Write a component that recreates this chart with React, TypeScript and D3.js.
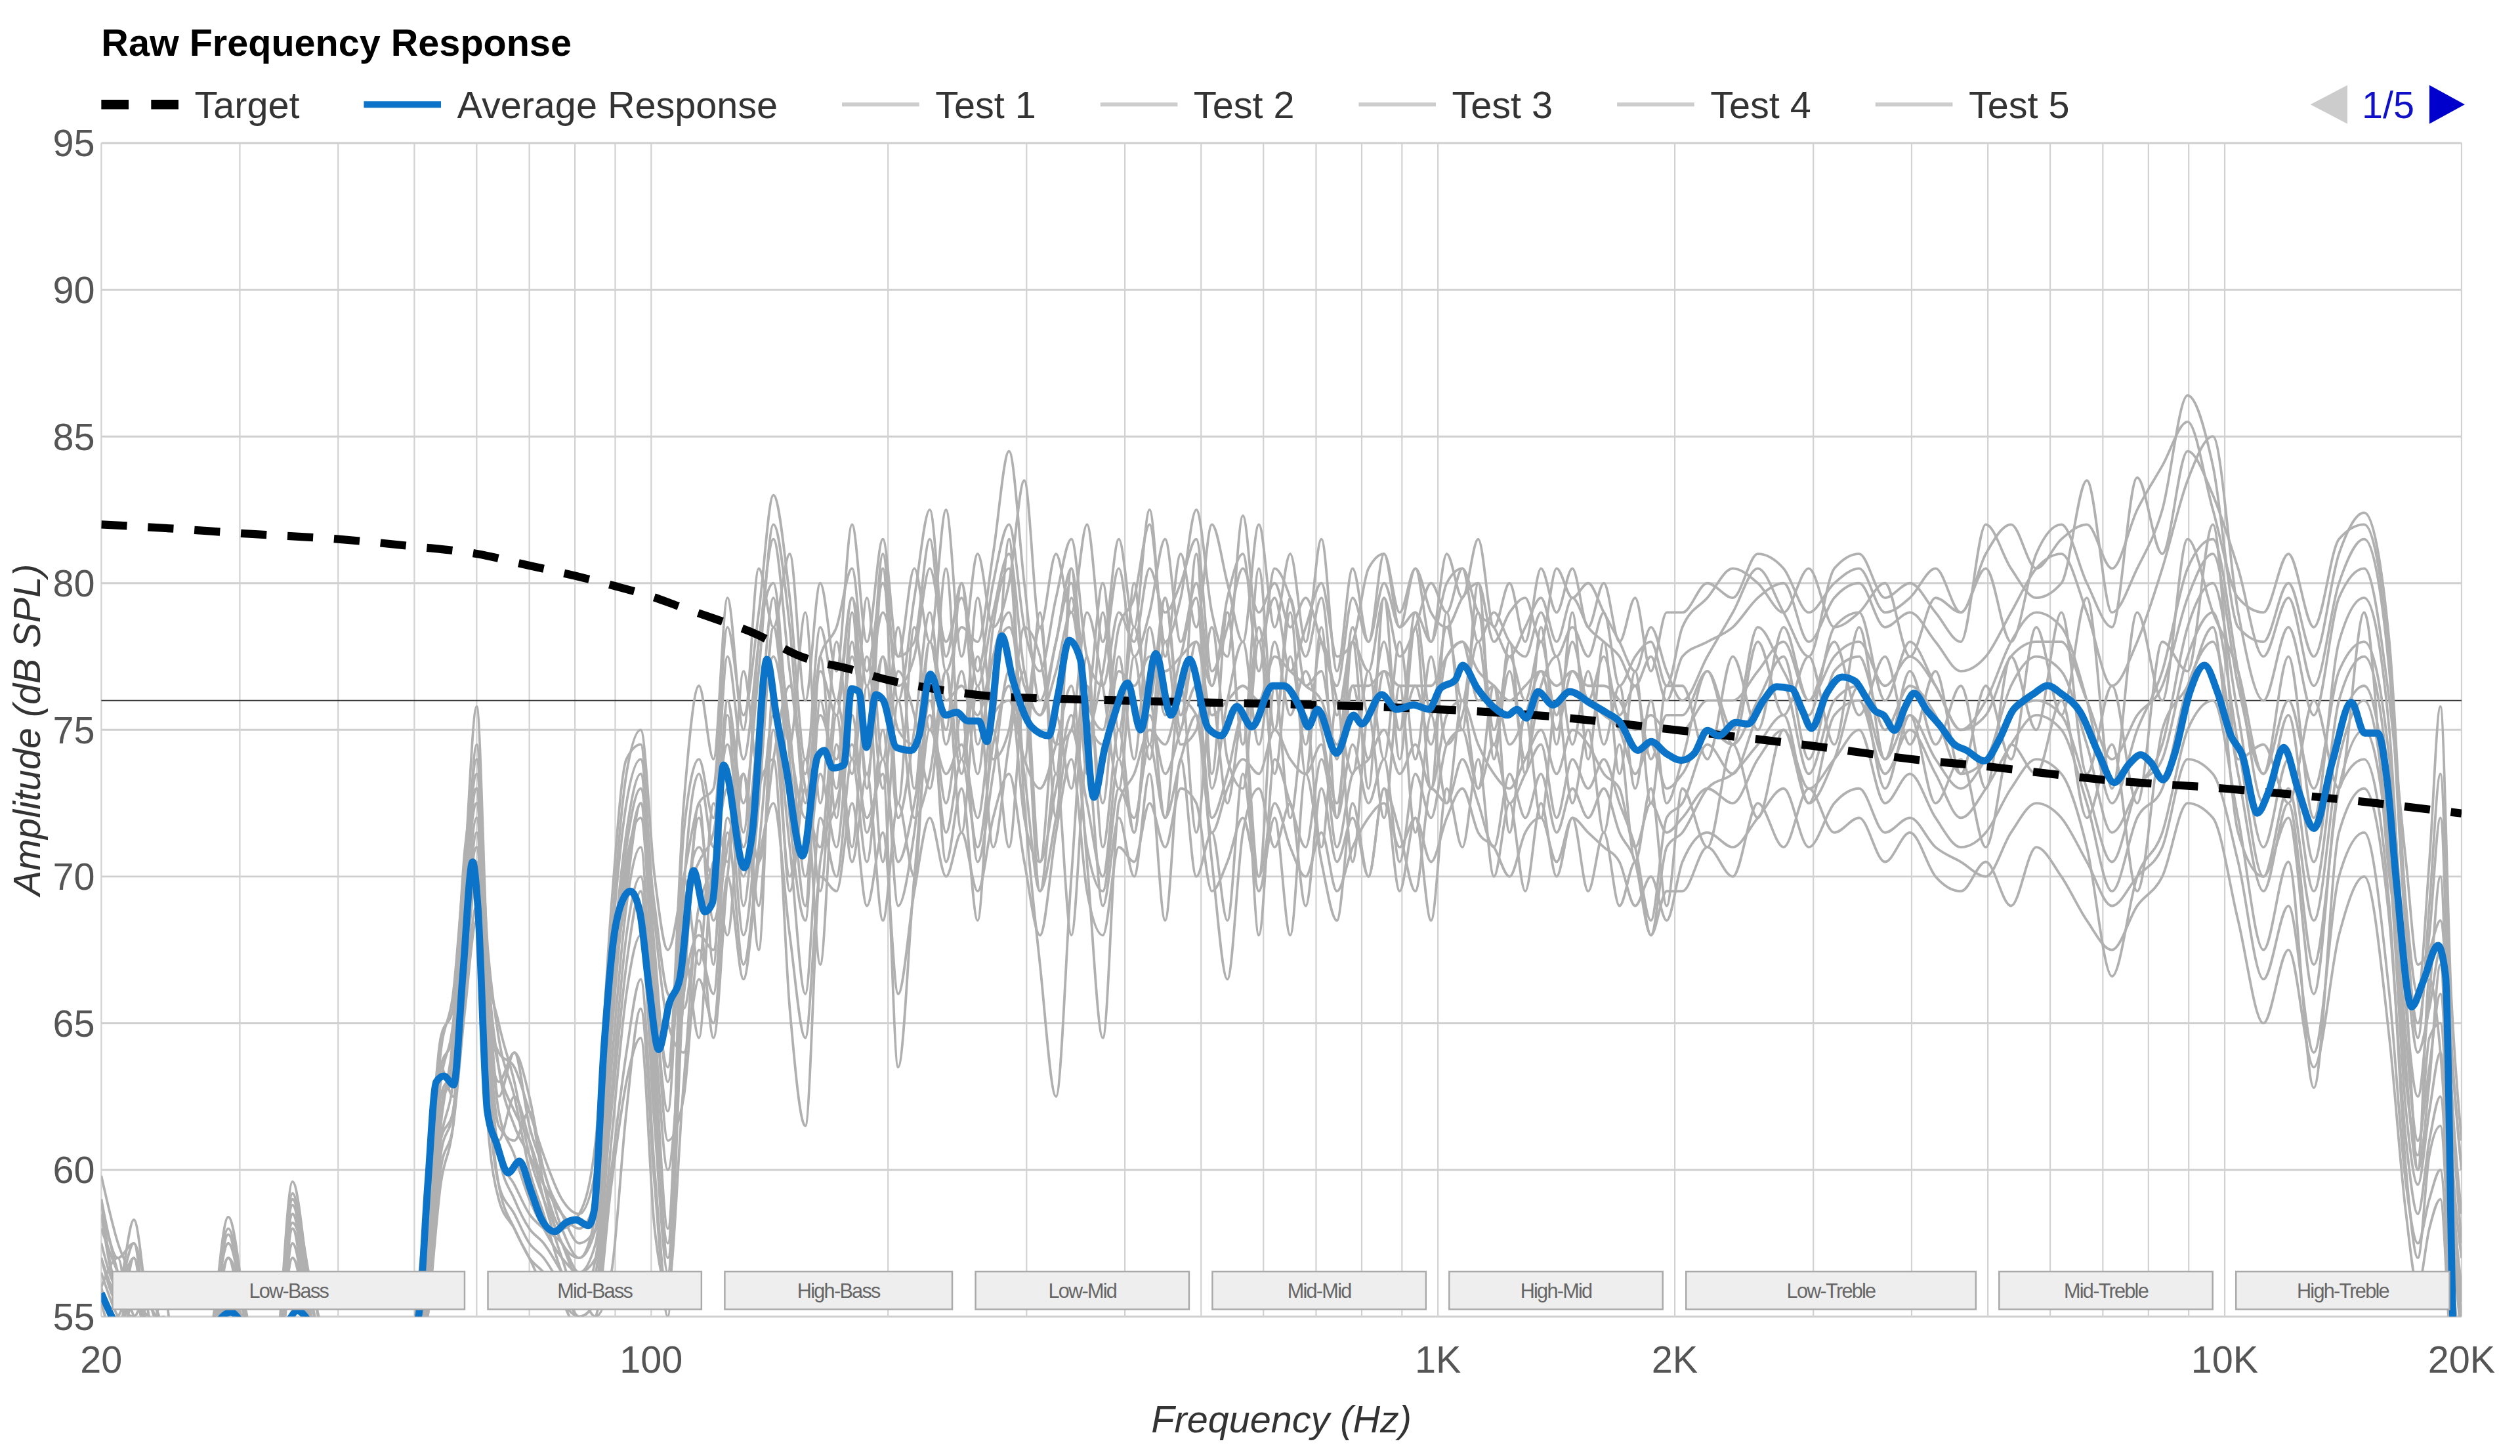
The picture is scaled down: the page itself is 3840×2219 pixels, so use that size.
import React, { useEffect, useRef } from 'react';
import * as d3 from 'd3';

// ---- data ----
const targetFreqs = [20, 25, 30, 40, 50, 60, 70, 80, 90, 100, 110, 120, 135, 155, 180, 200, 235, 270, 340, 470, 700, 1000, 1400, 2000, 3000, 4000, 5000, 6000, 7000, 10000, 15000, 20000];
const targetDb = [82.0, 81.85, 81.7, 81.5, 81.25, 81.0, 80.6, 80.25, 79.9, 79.55, 79.15, 78.8, 78.3, 77.5, 77.05, 76.7, 76.35, 76.15, 76.05, 75.95, 75.85, 75.7, 75.45, 75.0, 74.45, 74.0, 73.75, 73.5, 73.3, 73.0, 72.55, 72.15];

const avgFreqs = [
  20, 21, 22.5, 25, 27, 29.2, 31, 33, 35.5, 38, 42, 46, 50.6, 52, 53.3, 54.5, 56.1, 57.6, 59.3, 60.2,
  61.9, 63.6, 65.8, 68, 70.3, 72.6, 75.4, 77.9, 80.2, 83.2, 84.6, 87.1, 89.5, 92, 94.1, 96.7, 99.4, 102.2, 105.5, 108.7,
  113.2, 117, 119.6, 123.6, 131.3, 134.3, 140.3, 144.2, 148.2, 155.7, 162.8, 166, 170.1, 175.7, 179.7, 183.7, 187.7, 193, 197.3, 205,
  214.2, 219, 226.4, 236.5, 244.4, 252.6, 261, 267, 279, 288.2, 304.4, 320, 328.9, 339.8, 351.1, 365.2, 377.3, 387.8, 403, 419,
  437.8, 457.6, 483.4, 510.7, 530.6, 555, 580, 616, 637, 669, 684, 703, 743, 781, 800, 848, 886, 931, 974, 1006,
  1052, 1075, 1123, 1174, 1227, 1260, 1296, 1340, 1400, 1471, 1563, 1634, 1699, 1795, 1866, 1949, 2038, 2118, 2200, 2274,
  2390, 2476, 2592, 2692, 2815, 2906, 2983, 3120, 3262, 3389, 3500, 3593, 3685, 3805, 3928, 4028, 4187, 4351, 4521, 4697,
  4947, 5172, 5375, 5550, 5731, 5953, 6186, 6554, 6924, 7236, 7563, 7817, 8050, 8350, 8630, 9020, 9425, 9800, 10183, 10526,
  11000, 11374, 11884, 12417, 12980, 13714, 14488, 15056, 15649, 16080, 16536, 17284, 17862, 18670, 19088, 19504, 20000,
];
const avgDb = [
  55.8, 54.6, 53.8, 53.5, 54.2, 55.15, 54.3, 53.8, 55.2, 54.2, 53.0, 52.8, 55.0, 59.5, 63.0, 63.2, 62.9, 66.6, 70.5, 69.0,
  62.0, 60.9, 59.9, 60.3, 59.3, 58.3, 57.9, 58.2, 58.3, 58.1, 58.6, 64.2, 67.8, 69.2, 69.5, 68.8, 66.2, 64.1, 65.7, 66.5,
  70.2, 68.8, 69.1, 73.8, 70.3, 71.4, 77.4, 75.5, 73.8, 70.7, 74.1, 74.3, 73.7, 73.8, 76.4, 76.3, 74.4, 76.2, 76.0, 74.4,
  74.3, 74.8, 76.9, 75.5, 75.6, 75.3, 75.3, 74.6, 78.2, 76.7, 75.1, 74.8, 76.2, 78.05, 77.4, 72.7, 74.4, 75.5, 76.6, 75.0,
  77.6, 75.5, 77.4, 75.05, 74.8, 75.8, 75.1, 76.5, 76.5, 75.7, 75.1, 75.7, 74.2, 75.5, 75.2, 76.2, 75.7, 75.85, 75.7, 76.4,
  76.7, 77.2, 76.4, 75.8, 75.5, 75.7, 75.4, 76.3, 75.85, 76.3, 75.9, 75.6, 75.3, 74.3, 74.6, 74.2, 73.96, 74.2, 74.98, 74.8,
  75.25, 75.2, 76.0, 76.47, 76.4, 75.65, 75.05, 76.25, 76.8, 76.66, 76.1, 75.65, 75.5, 74.98, 75.8, 76.25, 75.65, 75.13, 74.53, 74.3,
  73.94, 74.68, 75.65, 75.99, 76.25, 76.51, 76.25, 75.6, 74.15, 73.2, 73.84, 74.15, 73.9, 73.3, 74.15, 76.25, 77.2, 76.25, 74.8, 74.15,
  72.16, 72.9, 74.4, 72.9, 71.64, 73.95, 75.94, 74.89, 74.89, 73.3, 69.75, 65.56, 66.4, 67.65, 66.6, 54.7, 48.0,
];

// frequencies shared by the individual test curves
const testFreqs = [
  20, 21, 22, 23, 24, 25, 27, 29, 31, 33, 35, 37, 40, 43, 46, 49, 52, 54, 56, 58, 60, 62, 64, 67, 70, 73, 77, 81, 85, 89, 93, 97, 101, 105,
  110, 115, 120, 125, 131, 137, 143, 150, 157, 164, 172, 180, 188, 197, 206, 216, 226, 237, 248, 260, 272, 285, 298, 312, 327, 342, 358, 375,
  393, 411, 430, 450, 471, 493, 516, 540, 565, 592, 620, 649, 679, 711, 744, 779, 816, 854, 894, 936, 980, 1026, 1074, 1125, 1178, 1233,
  1291, 1352, 1415, 1482, 1552, 1625, 1701, 1781, 1865, 1953,
  2045, 2200, 2370, 2550, 2750, 2960, 3190, 3430, 3700, 3980, 4290, 4620, 4970, 5350, 5760, 6200, 6680, 7190, 7740, 8330, 8970, 9660,
  10400, 11200, 12050, 12980, 13970, 15040, 16190, 17000, 17600, 18200, 18800, 19400, 20000,
];

const test1 = [
  59.8, 57.5, 56.2, 54.5, 53.8, 52.5, 53.0, 55.8, 53.5, 52.0, 57.5, 54.0, 51.5, 50.5, 51.0, 52.5, 57.0, 62.5, 63.5, 69.0, 74.5, 66.0, 62.0, 60.5, 59.0, 58.0, 57.0, 56.5, 57.5, 65.0, 70.5, 72.0, 66.0, 62.0,
  71.5, 74.0, 72.0, 77.5, 74.0, 78.0, 81.5, 77.0, 73.5, 78.5, 76.0, 79.5, 77.0, 80.0, 76.5, 77.5, 80.5, 78.0, 79.5, 77.0, 80.0, 82.0, 78.5, 77.0, 79.5, 81.5, 77.5, 76.5,
  79.0, 78.0, 80.5, 79.0, 80.0, 81.5, 77.0, 78.5, 80.5, 79.0, 80.0, 78.5, 79.5, 78.0, 76.5, 79.5, 78.0, 80.0, 78.5, 79.0, 78.0, 80.0, 80.5, 79.0, 78.5, 77.5,
  78.5, 79.5, 78.0, 79.5, 78.5, 78.0, 77.5, 76.5, 77.5, 76.0,
  77.5, 78.0, 78.5, 79.5, 80.0, 78.0, 79.5, 80.0, 78.5, 79.0, 78.0, 77.0, 77.5, 79.0, 80.5, 81.0, 79.0, 76.5, 78.0, 80.5, 83.5, 85.0,
  79.0, 76.0, 78.5, 75.5, 79.5, 80.5, 76.0, 70.5, 67.0, 67.5, 68.5, 64.0, 60.0,
];
const test2 = [
  58.5, 56.0, 58.3, 55.0, 53.5, 52.0, 52.5, 58.4, 54.0, 52.5, 59.6, 55.5, 52.0, 51.0, 50.5, 52.0, 56.0, 61.5, 64.5, 70.5, 75.8, 67.0, 63.5, 61.5, 60.5, 59.5, 58.5, 58.0, 59.0, 67.5, 72.5, 74.0, 68.5, 65.0,
  64.0, 66.5, 65.0, 70.0, 66.5, 70.5, 72.5, 68.0, 64.5, 70.0, 69.5, 72.5, 69.0, 71.5, 66.0, 69.5, 72.0, 70.0, 71.5, 69.5, 72.0, 73.5, 70.5, 68.0, 71.5, 74.0, 69.5, 68.0,
  71.0, 70.5, 72.5, 71.0, 73.0, 72.5, 69.5, 70.5, 72.0, 70.0, 72.5, 71.0, 70.0, 71.5, 69.5, 71.0, 72.0, 72.5, 71.0, 72.0, 70.5, 72.0, 73.0, 71.5, 71.0, 70.0,
  71.5, 72.0, 70.5, 72.0, 71.5, 71.0, 70.5, 69.0, 70.0, 68.5,
  70.5, 71.5, 71.0, 72.0, 73.0, 71.0, 72.5, 73.0, 71.5, 72.0, 71.0, 70.5, 70.0, 71.5, 72.5, 72.0, 70.5, 69.0, 70.0, 71.0, 74.0, 73.5,
  70.5, 66.5, 69.0, 64.0, 70.0, 71.5, 66.0, 59.5, 57.5, 59.0, 60.0, 55.0, 51.0,
];
const test3 = [
  57.0, 55.5, 55.0, 56.0, 54.0, 51.5, 52.0, 56.5, 53.0, 51.5, 58.5, 54.5, 51.0, 50.0, 50.0, 51.5, 58.5, 63.5, 62.5, 67.5, 71.5, 64.5, 61.0, 62.5, 61.0, 59.0, 57.0, 55.5, 56.0, 62.5, 68.0, 70.0, 64.0, 58.0,
  68.5, 71.0, 70.0, 75.5, 69.0, 74.5, 79.5, 72.0, 68.5, 76.0, 73.0, 78.0, 73.5, 77.5, 72.0, 75.0, 79.0, 74.5, 77.0, 73.5, 78.5, 80.5, 72.5, 67.0, 62.5, 70.0, 76.5, 72.5,
  77.5, 74.0, 78.5, 75.5, 77.5, 79.5, 73.0, 76.0, 78.0, 74.5, 78.0, 75.5, 77.0, 75.0, 72.5, 76.5, 74.0, 77.0, 75.0, 76.5, 74.5, 77.5, 78.0, 76.0, 76.5, 74.5,
  75.5, 77.0, 75.0, 77.0, 76.0, 75.5, 75.0, 73.5, 74.5, 73.0,
  73.5, 75.0, 74.5, 76.0, 77.5, 74.0, 77.0, 77.5, 75.0, 76.5, 75.5, 73.5, 74.0, 76.5, 77.5, 77.0, 74.5, 71.5, 73.0, 74.5, 78.5, 80.0,
  75.5, 71.0, 74.0, 69.5, 75.0, 76.5, 72.0, 64.5, 61.0, 63.5, 66.0, 60.0, 55.5,
];
const test4 = [
  56.0, 54.5, 57.0, 54.0, 55.9, 53.0, 53.5, 57.5, 54.5, 53.0, 59.0, 56.0, 52.5, 51.5, 51.0, 53.0, 59.5, 64.5, 65.5, 71.0, 73.0, 65.5, 64.0, 63.5, 62.0, 60.5, 59.0, 58.5, 60.0, 68.0, 73.5, 75.0, 70.0, 67.5,
  70.0, 72.5, 73.0, 78.5, 75.5, 79.0, 83.0, 79.5, 74.0, 77.5, 78.5, 80.5, 76.5, 79.0, 77.5, 78.0, 81.5, 77.0, 78.5, 78.0, 81.0, 84.5, 80.0, 76.0, 78.0, 80.5, 76.0, 75.0,
  78.5, 79.5, 82.0, 78.0, 79.5, 82.5, 79.0, 77.5, 82.3, 78.0, 79.5, 77.0, 78.5, 80.0, 77.5, 78.0, 80.5, 81.0, 79.0, 80.5, 79.0, 78.5, 79.5, 80.0, 78.0, 79.0,
  79.5, 78.0, 80.5, 79.5, 80.0, 79.0, 78.0, 77.0, 78.5, 77.0,
  76.0, 77.5, 79.0, 80.5, 79.0, 77.5, 80.5, 81.0, 79.5, 80.0, 79.0, 78.0, 82.0, 80.5, 79.5, 80.0, 83.5, 79.0, 80.5, 82.5, 86.4, 84.0,
  78.5, 78.0, 80.0, 77.5, 81.0, 82.4, 78.0, 69.0, 66.0, 70.5, 75.8, 66.0, 61.0,
];
const test5 = [
  55.5, 54.0, 56.5, 53.0, 52.5, 51.0, 51.5, 57.0, 52.5, 51.0, 58.0, 53.5, 50.5, 49.5, 49.5, 51.0, 55.5, 60.5, 62.0, 66.0, 69.0, 62.5, 59.5, 58.5, 57.5, 57.0, 56.0, 55.0, 55.5, 60.0, 64.0, 66.5, 60.0, 55.5,
  66.0, 68.0, 67.5, 72.0, 70.0, 73.0, 74.0, 65.5, 61.5, 70.5, 72.5, 74.5, 72.0, 73.5, 63.5, 70.0, 75.0, 73.5, 74.5, 72.0, 75.5, 76.0, 74.0, 73.0, 74.5, 76.5, 70.5, 64.5,
  72.5, 73.5, 75.0, 74.5, 76.0, 75.5, 71.5, 73.0, 74.0, 73.5, 75.0, 74.0, 73.5, 74.5, 71.0, 73.5, 74.0, 75.0, 73.5, 74.5, 73.0, 75.5, 76.0, 74.5, 73.5, 73.0,
  74.0, 75.0, 73.5, 75.0, 74.5, 73.5, 73.0, 71.0, 72.5, 71.5,
  72.0, 73.0, 72.5, 74.0, 75.0, 73.0, 74.0, 75.0, 72.5, 73.5, 72.0, 71.0, 71.5, 73.0, 74.0, 73.5, 71.0, 66.6, 70.0, 71.5, 75.0, 76.0,
  72.0, 67.5, 70.5, 62.8, 71.5, 73.0, 68.5, 61.0, 58.5, 61.0, 62.5, 57.0, 53.0,
];
const test6 = [
  58.0, 56.5, 55.5, 55.0, 54.5, 52.5, 53.0, 58.0, 54.0, 52.0, 59.2, 55.0, 51.5, 50.5, 50.5, 52.5, 57.5, 62.0, 64.0, 69.5, 72.5, 66.5, 62.5, 64.0, 61.5, 60.0, 58.0, 57.0, 58.0, 66.0, 71.0, 73.0, 67.5, 63.0,
  69.0, 70.5, 71.5, 74.5, 71.0, 75.0, 77.5, 74.5, 72.0, 75.5, 74.0, 77.5, 75.0, 77.5, 75.0, 74.5, 78.0, 76.0, 76.5, 75.5, 77.5, 78.5, 76.5, 75.5, 77.0, 79.0, 75.5, 74.5,
  77.0, 76.5, 77.5, 77.0, 77.5, 78.0, 75.5, 76.0, 76.5, 76.0, 77.5, 77.0, 76.5, 76.0, 74.5, 76.5, 76.5, 77.0, 76.5, 76.5, 76.5, 77.5, 78.0, 77.0, 76.5, 76.0,
  76.5, 77.0, 76.5, 77.0, 76.5, 76.5, 76.0, 75.0, 75.5, 75.0,
  75.0, 76.0, 76.0, 77.0, 78.0, 76.0, 77.5, 78.0, 76.5, 77.5, 76.5, 75.0, 75.5, 77.5, 78.0, 78.0, 76.0, 74.0, 75.5, 76.5, 79.5, 81.0,
  76.5, 73.5, 76.0, 73.0, 77.0, 78.0, 74.0, 67.0, 64.0, 65.5, 67.5, 62.0, 57.5,
];
const test7 = [
  54.5, 55.0, 56.0, 53.5, 53.0, 51.5, 52.0, 56.0, 53.0, 51.5, 57.5, 54.5, 51.0, 50.0, 50.0, 51.5, 56.5, 61.0, 63.0, 68.0, 71.0, 63.5, 60.5, 59.5, 58.5, 58.0, 57.5, 56.5, 57.0, 63.5, 69.0, 71.0, 63.0, 57.0,
  67.0, 72.0, 68.5, 71.0, 73.5, 70.5, 74.0, 76.5, 73.0, 71.0, 76.0, 73.5, 77.5, 73.0, 77.0, 75.5, 73.0, 77.0, 73.5, 77.5, 74.0, 75.0, 78.5, 77.5, 74.5, 75.0, 79.0, 76.5,
  73.0, 77.5, 74.0, 78.0, 74.5, 75.0, 78.5, 74.0, 73.0, 78.0, 73.5, 77.5, 74.5, 78.0, 76.0, 73.5, 77.0, 74.0, 78.0, 74.0, 77.5, 74.5, 75.5, 78.0, 74.5, 77.0,
  74.0, 76.5, 77.5, 74.5, 77.0, 74.5, 76.5, 73.0, 76.0, 72.5,
  74.0, 77.0, 74.5, 78.0, 75.5, 77.5, 74.5, 78.5, 74.0, 77.0, 74.5, 76.5, 73.0, 77.5, 75.0, 79.0, 73.5, 76.5, 72.5, 78.0, 77.0, 82.0,
  74.0, 74.5, 72.5, 76.0, 73.0, 79.0, 70.0, 66.0, 60.0, 66.5, 64.0, 58.5, 54.0,
];
const test8 = [
  59.0, 57.0, 57.5, 55.5, 54.5, 53.0, 53.5, 57.0, 54.5, 52.5, 58.5, 55.5, 52.0, 51.0, 51.0, 52.5, 58.0, 63.0, 65.0, 70.0, 73.5, 67.5, 64.5, 62.5, 60.0, 58.5, 56.5, 55.5, 56.5, 64.5, 70.0, 72.5, 69.0, 66.0,
  65.5, 69.0, 70.5, 73.0, 68.0, 72.5, 78.5, 75.0, 70.0, 73.5, 71.0, 75.5, 71.5, 74.0, 70.5, 72.5, 75.5, 71.5, 74.0, 71.0, 74.5, 76.5, 72.0, 70.5, 73.0, 75.5, 71.0, 69.5,
  73.0, 72.0, 74.5, 72.0, 74.0, 75.5, 70.5, 66.5, 71.5, 73.0, 71.0, 72.5, 69.0, 73.0, 70.5, 72.0, 70.0, 73.0, 71.5, 69.5, 73.0, 72.5, 74.0, 72.5, 71.0, 73.5,
  72.0, 73.5, 71.5, 73.0, 72.0, 73.0, 71.5, 70.5, 68.0, 71.0,
  71.5, 73.0, 73.5, 74.5, 75.5, 72.5, 75.5, 76.0, 73.5, 75.0, 73.5, 72.0, 73.0, 74.5, 75.5, 75.0, 72.5, 69.5, 72.0, 73.0, 76.5, 78.0,
  73.5, 69.5, 72.5, 67.0, 73.0, 75.0, 70.5, 62.0, 59.5, 62.0, 64.0, 58.0, 54.5,
];
const test9 = [
  56.5, 55.0, 54.5, 54.0, 53.5, 52.0, 52.5, 55.5, 53.5, 52.0, 57.0, 54.0, 51.5, 50.5, 50.5, 52.0, 55.0, 60.0, 61.5, 65.5, 68.5, 61.5, 59.0, 58.0, 57.0, 56.5, 55.5, 55.0, 55.5, 61.0, 66.0, 68.0, 61.5, 56.5,
  69.5, 73.5, 71.0, 76.0, 72.5, 77.0, 82.0, 78.5, 72.5, 77.0, 75.5, 79.5, 75.0, 81.0, 76.0, 79.5, 82.5, 77.5, 80.0, 76.5, 79.0, 81.0, 77.0, 75.5, 78.0, 80.0, 75.0, 77.0,
  80.5, 77.5, 79.0, 81.5, 78.0, 80.0, 76.5, 79.5, 81.0, 77.0, 80.5, 79.5, 77.5, 79.5, 75.5, 78.0, 77.0, 79.5, 77.5, 78.5, 80.0, 79.0, 80.5, 78.0, 79.0, 78.0,
  77.5, 79.0, 77.5, 78.5, 77.5, 79.0, 76.5, 77.5, 78.0, 76.5,
  78.5, 79.5, 80.5, 80.0, 79.0, 80.5, 78.5, 79.0, 80.0, 77.5, 79.5, 79.0, 80.5, 78.0, 81.0, 82.0, 80.0, 78.5, 83.6, 81.0, 84.5, 83.0,
  80.5, 77.5, 79.5, 76.5, 80.0, 81.5, 77.0, 68.0, 65.0, 68.0, 72.0, 63.0, 58.5,
];
const test10 = [
  57.5, 56.0, 57.0, 54.5, 54.0, 52.5, 53.0, 57.5, 54.0, 52.5, 58.8, 55.0, 52.0, 51.0, 51.0, 52.5, 58.0, 62.5, 63.0, 68.5, 72.0, 65.0, 61.5, 61.0, 62.0, 59.5, 57.5, 57.0, 58.5, 66.5, 71.5, 73.5, 66.5, 61.0,
  62.5, 67.5, 66.0, 71.5, 67.0, 71.0, 75.5, 71.0, 66.0, 72.0, 70.0, 74.0, 70.5, 75.0, 69.0, 71.5, 76.0, 72.5, 75.5, 70.5, 73.5, 77.0, 73.5, 69.5, 72.0, 75.0, 72.5, 70.0,
  74.0, 71.5, 75.5, 73.5, 75.0, 76.5, 72.0, 73.5, 75.5, 68.0, 74.0, 72.5, 71.0, 74.0, 72.0, 74.5, 72.5, 74.0, 70.5, 73.5, 72.0, 74.5, 75.0, 73.0, 74.5, 72.5,
  73.5, 74.5, 72.0, 74.0, 73.0, 74.0, 72.5, 71.0, 68.5, 72.0,
  72.5, 74.5, 73.5, 75.5, 76.5, 73.5, 76.0, 76.5, 74.0, 75.5, 74.0, 73.0, 74.0, 75.5, 76.0, 75.5, 73.0, 70.5, 73.0, 74.0, 77.5, 79.0,
  74.5, 70.0, 73.0, 68.5, 74.0, 76.0, 71.0, 63.0, 60.5, 64.5, 65.0, 59.5, 56.0,
];
const test11 = [
  58.8, 56.5, 55.0, 53.5, 53.0, 52.0, 52.5, 57.8, 53.5, 52.0, 58.0, 55.0, 51.5, 50.5, 50.5, 52.0, 57.0, 62.0, 63.5, 69.5, 73.0, 65.0, 63.0, 64.0, 62.5, 60.0, 58.5, 57.5, 58.0, 65.5, 69.5, 72.5, 65.0, 60.0,
  66.0, 72.5, 67.0, 76.0, 71.5, 78.0, 80.0, 74.0, 69.0, 77.5, 72.0, 79.0, 73.0, 80.5, 72.5, 78.5, 75.0, 80.5, 74.0, 79.5, 75.5, 81.5, 74.0, 79.0, 72.0, 80.5, 73.5, 79.0,
  74.0, 80.0, 74.5, 79.5, 75.0, 81.0, 73.5, 79.0, 74.5, 80.5, 75.0, 79.0, 73.5, 78.5, 72.0, 78.0, 73.0, 79.5, 74.0, 78.5, 73.0, 79.0, 75.0, 80.0, 74.0, 78.0,
  73.5, 78.5, 74.5, 79.0, 74.0, 78.0, 73.5, 77.0, 72.5, 76.5,
  76.5, 74.0, 77.5, 75.0, 78.5, 76.0, 78.0, 75.5, 77.5, 74.5, 77.0, 73.5, 76.5, 74.0, 78.5, 75.5, 79.5, 73.0, 79.0, 76.0, 81.5, 79.0,
  77.0, 73.5, 77.5, 72.0, 78.0, 79.5, 75.0, 65.5, 62.5, 66.0, 70.0, 61.0, 57.0,
];
const test12 = [
  55.0, 54.0, 55.5, 54.5, 55.0, 52.5, 53.0, 56.0, 54.0, 52.5, 57.0, 54.5, 51.5, 51.0, 51.0, 52.0, 56.0, 61.0, 62.0, 66.5, 70.0, 64.0, 60.5, 59.0, 58.0, 57.5, 56.5, 55.5, 57.0, 62.0, 67.0, 69.5, 62.0, 57.5,
  67.5, 64.5, 70.5, 68.0, 73.5, 69.0, 75.0, 70.0, 74.0, 69.5, 75.5, 71.0, 76.5, 70.5, 76.0, 72.0, 73.5, 77.0, 71.5, 76.5, 71.0, 74.5, 77.0, 70.5, 75.5, 73.0, 77.5, 71.0,
  75.0, 71.5, 76.0, 72.0, 76.5, 71.5, 76.0, 72.5, 75.5, 70.0, 76.5, 72.0, 75.5, 71.0, 76.0, 70.5, 75.5, 72.0, 76.5, 71.5, 75.5, 72.5, 76.0, 73.0, 76.5, 71.5,
  75.5, 72.0, 76.0, 72.5, 75.0, 71.5, 74.5, 70.5, 73.0, 69.0,
  73.0, 71.0, 74.5, 72.0, 75.0, 72.5, 74.0, 76.5, 73.0, 75.5, 72.5, 74.0, 71.0, 74.5, 73.5, 76.0, 72.0, 74.5, 69.5, 75.0, 76.5, 78.5,
  71.5, 70.0, 72.0, 66.0, 73.0, 74.0, 69.0, 60.0, 57.0, 60.5, 61.5, 56.0, 52.0,
];
const test13 = [
  57.0, 55.5, 56.5, 55.5, 54.0, 53.0, 53.5, 56.5, 54.5, 53.0, 58.2, 56.0, 52.5, 51.5, 51.5, 53.0, 58.5, 64.0, 66.0, 70.5, 72.5, 66.0, 63.5, 62.0, 61.0, 59.5, 58.0, 58.5, 61.0, 69.0, 74.0, 74.5, 67.0, 63.5,
  72.5, 76.5, 74.0, 79.5, 75.0, 80.5, 78.5, 81.0, 76.0, 80.0, 77.0, 82.0, 78.0, 81.5, 77.5, 80.5, 78.0, 82.5, 77.5, 81.0, 78.5, 80.0, 83.5, 78.5, 81.0, 79.0, 82.0, 78.0,
  81.5, 78.5, 82.5, 77.5, 81.0, 78.5, 82.0, 80.0, 78.0, 82.0, 78.5, 81.0, 78.0, 81.5, 77.0, 80.5, 78.0, 81.0, 78.5, 80.5, 78.0, 81.0, 79.5, 81.5, 78.5, 80.0,
  78.0, 80.5, 79.0, 80.5, 78.5, 80.0, 78.0, 79.5, 77.0, 79.0,
  79.0, 80.0, 79.5, 81.0, 80.5, 79.0, 80.0, 80.5, 79.0, 79.5, 80.5, 79.0, 81.0, 82.0, 80.5, 81.5, 82.0, 80.5, 82.5, 84.0, 85.5, 82.5,
  79.5, 79.0, 81.0, 78.5, 81.5, 82.0, 77.5, 68.5, 64.5, 69.0, 73.5, 64.5, 60.0,
];
const test14 = [
  56.0, 57.0, 54.0, 55.5, 54.5, 51.5, 52.5, 55.0, 53.0, 51.5, 56.5, 53.5, 50.5, 49.5, 50.0, 51.0, 55.0, 59.5, 61.5, 66.5, 70.5, 63.0, 59.5, 58.0, 57.0, 56.0, 55.5, 54.5, 55.0, 59.5, 63.0, 64.5, 58.0, 56.0,
  63.0, 68.5, 64.5, 70.0, 73.5, 67.5, 76.5, 69.5, 73.0, 67.0, 74.5, 70.5, 73.5, 68.5, 72.5, 70.0, 76.5, 70.5, 73.0, 68.5, 75.0, 71.0, 76.0, 69.5, 73.5, 68.0, 74.0, 69.0,
  72.0, 70.0, 73.5, 68.5, 74.0, 70.0, 71.5, 68.5, 73.5, 69.5, 72.0, 68.0, 73.5, 70.5, 68.5, 72.5, 70.0, 73.0, 69.5, 72.0, 68.5, 73.0, 71.0, 74.0, 70.0, 72.5,
  69.5, 72.5, 70.0, 72.0, 69.5, 71.5, 69.0, 70.5, 68.0, 69.5,
  69.5, 71.0, 70.0, 72.5, 71.0, 73.0, 71.5, 72.0, 70.5, 71.5, 70.0, 69.5, 70.5, 69.0, 71.0, 70.0, 68.5, 67.5, 69.0, 70.0, 72.5, 72.0,
  68.5, 65.0, 67.5, 63.5, 68.0, 70.0, 64.5, 58.5, 56.0, 58.0, 59.0, 53.5, 50.5,
];
const test15 = [
  59.0, 56.0, 57.5, 54.0, 53.5, 52.5, 53.0, 57.0, 54.0, 52.5, 59.0, 55.5, 52.0, 51.0, 51.0, 52.5, 57.5, 63.5, 64.5, 70.0, 74.0, 67.0, 65.0, 63.0, 60.5, 59.0, 57.5, 56.0, 55.0, 56.5, 62.0, 65.5, 59.5, 55.0,
  70.0, 67.0, 72.5, 70.5, 77.0, 73.5, 78.5, 74.5, 79.0, 72.5, 78.0, 74.0, 79.5, 74.0, 78.5, 73.0, 78.0, 75.0, 80.0, 74.5, 77.5, 79.0, 75.5, 78.5, 73.5, 79.5, 76.0, 80.0,
  75.0, 78.5, 76.0, 79.5, 75.5, 78.0, 76.5, 79.0, 74.5, 78.5, 75.0, 79.5, 76.5, 77.0, 74.0, 78.5, 75.5, 78.0, 75.0, 79.0, 75.5, 78.5, 76.0, 79.0, 75.0, 77.5,
  76.0, 78.0, 75.5, 78.0, 76.0, 77.5, 75.5, 76.5, 74.0, 75.5,
  75.5, 77.0, 75.0, 78.5, 77.0, 75.5, 78.5, 79.0, 76.0, 78.0, 76.5, 75.0, 76.0, 78.0, 79.0, 78.5, 76.0, 72.5, 75.0, 77.0, 80.5, 81.5,
  77.0, 72.5, 75.5, 70.5, 76.0, 77.5, 73.0, 63.5, 60.0, 63.0, 67.0, 59.0, 55.0,
];
const tests = [test1, test2, test3, test4, test5, test6, test7, test8, test9, test10, test11, test12, test13, test14, test15];

const gridHz = [20, 30, 40, 50, 60, 70, 80, 90, 100, 200, 300, 400, 500, 600, 700, 800, 900, 1000, 2000, 3000, 4000, 5000, 6000, 7000, 8000, 9000, 10000, 20000];
const xTickHz = [20, 100, 1000, 2000, 10000, 20000];
const xTickLabels = ['20', '100', '1K', '2K', '10K', '20K'];
const yTicks = [55, 60, 65, 70, 75, 80, 85, 90, 95];
const refLevel = 76;

const bandNames = ['Low-Bass', 'Mid-Bass', 'High-Bass', 'Low-Mid', 'Mid-Mid', 'High-Mid', 'Low-Treble', 'Mid-Treble', 'High-Treble'];
const bandEdges = [20, 60, 120, 250, 500, 1000, 2000, 5000, 10000, 20000];

const legendNames = ['Target', 'Average Response', 'Test 1', 'Test 2', 'Test 3', 'Test 4', 'Test 5'];

const FONT = "'Liberation Sans', Arial, Helvetica, sans-serif";
const BLUE = '#0b74c8';
const GREY = '#b0b0b0';

const App: React.FC = () => {
  const svgRef = useRef<SVGSVGElement>(null);

  useEffect(() => {
    if (!svgRef.current) return;
    const svg = d3.select(svgRef.current);
    svg.selectAll('*').remove();

    const left = 63, right = 1531, top = 89, bottom = 819;
    const x = d3.scaleLog().domain([20, 20000]).range([left, right]);
    const y = d3.scaleLinear().domain([55, 95]).range([bottom, top]);

    svg.append('rect').attr('width', '100%').attr('height', '100%').attr('fill', '#fff');

    svg.append('defs').append('clipPath').attr('id', 'plot-clip')
      .append('rect').attr('x', left).attr('y', top).attr('width', right - left).attr('height', bottom - top);

    // grid
    const grid = svg.append('g');
    grid.selectAll('.hg').data(yTicks).enter().append('line')
      .attr('x1', left).attr('x2', right)
      .attr('y1', d => y(d)).attr('y2', d => y(d))
      .attr('stroke', '#cfcfcf').attr('stroke-width', 1.2);
    grid.selectAll('.vg').data(gridHz).enter().append('line')
      .attr('x1', d => x(d)).attr('x2', d => x(d))
      .attr('y1', top).attr('y2', bottom)
      .attr('stroke', '#d2d2d2').attr('stroke-width', 0.9);

    // reference level
    svg.append('line')
      .attr('x1', left).attr('x2', right)
      .attr('y1', y(refLevel)).attr('y2', y(refLevel))
      .attr('stroke', '#333').attr('stroke-width', 0.7);

    const plot = svg.append('g').attr('clip-path', 'url(#plot-clip)');
    const line = d3.line<[number, number]>()
      .x(d => x(d[0])).y(d => y(d[1]))
      .curve(d3.curveMonotoneX);

    // individual tests
    tests.forEach(vals => {
      const pts: [number, number][] = testFreqs.slice(0, vals.length).map((f, i) => [f, vals[i]]);
      plot.append('path').attr('d', line(pts) || '')
        .attr('fill', 'none').attr('stroke', GREY).attr('stroke-width', 1.55);
    });

    // target
    const tgt: [number, number][] = targetFreqs.map((f, i) => [f, targetDb[i]]);
    plot.append('path').attr('d', line(tgt) || '')
      .attr('fill', 'none').attr('stroke', '#000').attr('stroke-width', 5)
      .attr('stroke-dasharray', '16 13');

    // average
    const avg: [number, number][] = avgFreqs.map((f, i) => [f, avgDb[i]]);
    plot.append('path').attr('d', line(avg) || '')
      .attr('fill', 'none').attr('stroke', BLUE).attr('stroke-width', 4.4)
      .attr('stroke-linejoin', 'round');

    // band boxes
    const bands = svg.append('g');
    bandNames.forEach((name, i) => {
      const x0 = x(bandEdges[i]) + 7;
      const x1 = x(bandEdges[i + 1]) - 7.5;
      bands.append('rect')
        .attr('x', x0).attr('y', 791).attr('width', x1 - x0).attr('height', 23.5)
        .attr('fill', '#eeeeee').attr('stroke', '#a9a9a9').attr('stroke-width', 1);
      bands.append('text')
        .attr('x', (x0 + x1) / 2).attr('y', 807.5)
        .attr('text-anchor', 'middle')
        .attr('font-family', FONT).attr('font-size', 12.5)
        .attr('letter-spacing', -0.7).attr('fill', '#666')
        .text(name);
    });

    // axes labels
    svg.append('g').selectAll('text').data(yTicks).enter().append('text')
      .attr('x', 59).attr('y', d => y(d) + 8.3)
      .attr('text-anchor', 'end')
      .attr('font-family', FONT).attr('font-size', 23.5).attr('fill', '#555')
      .text(d => String(d));
    svg.append('g').selectAll('text').data(xTickHz).enter().append('text')
      .attr('x', d => x(d)).attr('y', 854)
      .attr('text-anchor', 'middle')
      .attr('font-family', FONT).attr('font-size', 23.5).attr('fill', '#555')
      .text((_, i) => xTickLabels[i]);

    svg.append('text')
      .attr('x', (left + right) / 2).attr('y', 891)
      .attr('text-anchor', 'middle').attr('font-style', 'italic')
      .attr('font-family', FONT).attr('font-size', 23.5).attr('fill', '#333')
      .text('Frequency (Hz)');
    svg.append('text')
      .attr('transform', `translate(25, ${(top + bottom) / 2}) rotate(-90)`)
      .attr('text-anchor', 'middle').attr('font-style', 'italic')
      .attr('font-family', FONT).attr('font-size', 23.5).attr('fill', '#333')
      .text('Amplitude (dB SPL)');

    // title
    svg.append('text')
      .attr('x', 63).attr('y', 34.5)
      .attr('font-family', FONT).attr('font-size', 23.5).attr('font-weight', 'bold').attr('fill', '#000')
      .text('Raw Frequency Response');

    // legend
    const legend = svg.append('g');
    let cx = 63;
    const ly = 65;
    legendNames.forEach((name, i) => {
      const sw = legend.append('line')
        .attr('x1', cx).attr('x2', cx + 48)
        .attr('y1', ly).attr('y2', ly);
      if (i === 0) sw.attr('stroke', '#000').attr('stroke-width', 6).attr('stroke-dasharray', '17 14');
      else if (i === 1) sw.attr('stroke', BLUE).attr('stroke-width', 4);
      else sw.attr('stroke', '#cccccc').attr('stroke-width', 2.5);
      const t = legend.append('text')
        .attr('x', cx + 58).attr('y', ly + 8.3)
        .attr('font-family', FONT).attr('font-size', 23.5).attr('fill', '#333')
        .text(name);
      const w = (t.node() as SVGTextElement).getComputedTextLength();
      cx = cx + 58 + w + 40;
    });

    // pager
    legend.append('path')
      .attr('d', 'M1437,65 L1460,53 L1460,77 Z').attr('fill', '#cccccc');
    legend.append('text')
      .attr('x', 1469).attr('y', ly + 8.3)
      .attr('font-family', FONT).attr('font-size', 23.5).attr('fill', '#1010c8')
      .text('1/5');
    legend.append('path')
      .attr('d', 'M1511,53 L1533,65 L1511,77 Z').attr('fill', '#0000cc');
  }, []);

  return (
    <svg
      ref={svgRef}
      width={3840}
      height={2219}
      viewBox="0 0 1567.35 905.7"
      style={{ position: 'absolute', left: 0, top: 0, display: 'block' }}
    />
  );
};

export default App;
